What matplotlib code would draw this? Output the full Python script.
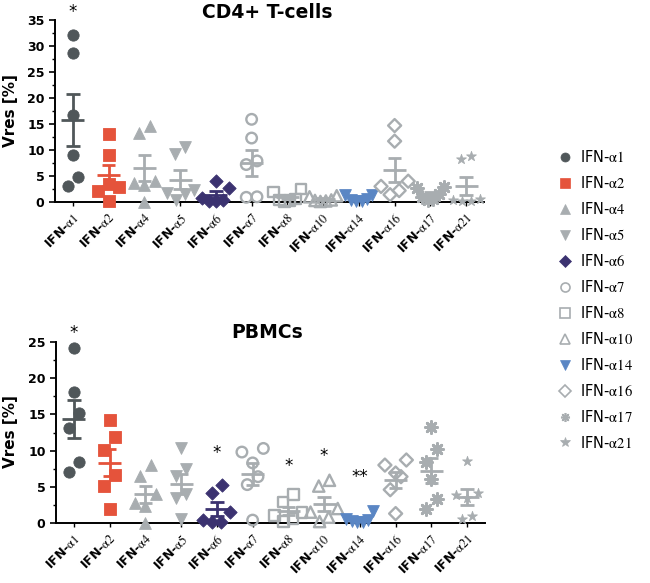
import numpy as np
import matplotlib
matplotlib.use('Agg')
import matplotlib.pyplot as plt
from matplotlib.lines import Line2D
from matplotlib.ticker import MultipleLocator

plt.rcParams['mathtext.fontset'] = 'stix'

subtypes = ['1', '2', '4', '5', '6', '7', '8', '10', '14', '16', '17', '21']
labels = [r'IFN-$\mathrm{\alpha%s}$' % s for s in subtypes]

# CD4+ T-cells, Vres [%] per donor
cd4_a1 = [32.2, 28.6, 16.7, 9.1, 4.8, 3.0]
cd4_a2 = [13.0, 9.1, 3.5, 2.9, 2.2, 0.1]
cd4_a4 = [14.7, 13.3, 4.0, 3.7, 3.3, 0.0]
cd4_a5 = [10.5, 9.2, 2.3, 1.8, 1.5, 0.3]
cd4_a6 = [4.1, 2.6, 0.8, 0.4, 0.2, 0.1]
cd4_a7 = [15.9, 12.3, 7.9, 7.2, 1.0, 0.9]
cd4_a8 = [2.5, 1.9, 0.6, 0.4, 0.3, 0.1]
cd4_a10 = [1.2, 1.0, 0.4, 0.3, 0.2, 0.1]
cd4_a14 = [1.4, 1.3, 0.6, 0.3, 0.2, 0.1]
cd4_a16 = [14.7, 11.7, 4.0, 3.0, 2.2, 1.4]
cd4_a17 = [2.9, 2.6, 1.6, 1.0, 0.6, 0.3]
cd4_a21 = [8.9, 8.3, 0.6, 0.4, 0.2, 0.1]

# PBMCs
pbmc_a1 = [24.2, 18.1, 15.2, 13.1, 8.4, 7.0]
pbmc_a2 = [14.2, 11.9, 10.1, 6.6, 5.1, 1.9]
pbmc_a4 = [8.0, 6.5, 4.0, 2.8, 2.4, 0.0]
pbmc_a5 = [10.3, 7.5, 6.5, 4.0, 3.5, 0.5]
pbmc_a6 = [5.2, 4.2, 1.5, 0.4, 0.2, 0.1]
pbmc_a7 = [10.3, 9.8, 8.3, 6.4, 5.3, 0.4]
pbmc_a8 = [3.9, 2.9, 1.5, 1.0, 0.6, 0.2]
pbmc_a10 = [5.9, 5.1, 2.0, 1.5, 0.8, 0.2]
pbmc_a14 = [1.6, 0.6, 0.4, 0.3, 0.2, 0.1]
pbmc_a16 = [8.7, 8.0, 6.9, 6.4, 4.6, 1.3]
pbmc_a17 = [13.3, 10.2, 8.4, 6.1, 3.3, 2.0]
pbmc_a21 = [8.5, 4.2, 3.8, 3.4, 1.0, 0.6]

cd4 = [cd4_a1, cd4_a2, cd4_a4, cd4_a5, cd4_a6, cd4_a7, cd4_a8, cd4_a10,
       cd4_a14, cd4_a16, cd4_a17, cd4_a21]
pbmc = [pbmc_a1, pbmc_a2, pbmc_a4, pbmc_a5, pbmc_a6, pbmc_a7, pbmc_a8, pbmc_a10,
        pbmc_a14, pbmc_a16, pbmc_a17, pbmc_a21]

# significance marks: group index, text, height
cd4_sig_idx = [0]
cd4_sig_txt = ['*']
cd4_sig_y = [36.6]
pbmc_sig_idx = [0, 4, 6, 7, 8]
pbmc_sig_txt = ['*', '*', '*', '*', '**']
pbmc_sig_y = [26.3, 9.6, 7.9, 9.2, 6.3]

dark = '#50575a'
red = '#e5533b'
gray = '#a8adb0'
purple = '#3b3270'
blue = '#5a86c4'
# marker, face, edge, size, line colour
styles = [
    ('o', dark, dark, 66, dark),
    ('s', red, red, 66, red),
    ('^', gray, gray, 72, gray),
    ('v', gray, gray, 72, gray),
    ('D', purple, purple, 46, purple),
    ('o', 'none', gray, 58, gray),
    ('s', 'none', gray, 60, gray),
    ('^', 'none', gray, 66, gray),
    ('v', blue, blue, 72, blue),
    ('D', 'none', gray, 44, gray),
    ((8, 2, 0), gray, gray, 75, gray),
    ('*', gray, gray, 55, gray),
]


def swarm(vals, ppu, d=0.3, thresh=15.5, maxw=0.38):
    # points closer than thresh pixels share a row and are spread sideways,
    # the highest ones going to the outside of the row
    vals = np.asarray(vals, float)
    order = np.argsort(vals)
    offs = np.zeros(len(vals))
    rows = []
    for i in order:
        if rows and (vals[i] - vals[rows[-1][0]]) * ppu < thresh:
            rows[-1].append(i)
        else:
            rows.append([i])
    for row in rows:
        n = len(row)
        w = min((n - 1) / 2 * d, maxw)
        pos = list(np.linspace(-w, w, n)) if n > 1 else [0.0]
        fill = []
        while pos:
            fill.append(pos.pop())
            if pos:
                fill.append(pos.pop(0))
        for i, x in zip(row[::-1], fill):
            offs[i] = x
    return offs


def panel(ax, data, ymax, step, sig_idx, sig_txt, sig_y):
    ax.set_xlim(-0.5, 11.5)
    ax.set_ylim(0, ymax)
    ppu = ax.get_window_extent().height / ymax
    for i, v in enumerate(data):
        m, fc, ec, s, lc = styles[i]
        xs = i + swarm(v, ppu)
        lw = 1.7 if fc == 'none' else 0.6
        if m == (8, 2, 0):
            lw = 2.0
        ax.scatter(xs, v, marker=m, s=s, facecolors=fc, edgecolors=ec,
                   linewidths=lw, clip_on=False, zorder=3)
        mean = np.mean(v)
        sem = np.std(v, ddof=1) / np.sqrt(len(v))
        ax.hlines(mean, i - 0.32, i + 0.32, color=lc, lw=2, zorder=4, clip_on=False)
        ax.hlines([mean - sem, mean + sem], i - 0.19, i + 0.19, color=lc, lw=2,
                  zorder=4, clip_on=False)
        ax.vlines(i, mean - sem, mean + sem, color=lc, lw=2, zorder=4, clip_on=False)
    for gi, t, y in zip(sig_idx, sig_txt, sig_y):
        ax.text(gi, y, t, ha='center', va='center', fontsize=12, clip_on=False)
    for side in ['top', 'right']:
        ax.spines[side].set_visible(False)
    ax.spines['left'].set_linewidth(1.4)
    ax.spines['bottom'].set_linewidth(1.4)
    ax.yaxis.set_major_locator(MultipleLocator(step))
    ax.yaxis.set_minor_locator(MultipleLocator(step / 2))
    ax.tick_params(axis='y', which='major', length=4, width=1.2, labelsize=9)
    ax.tick_params(axis='y', which='minor', length=2, width=1)
    ax.tick_params(axis='x', length=3, width=1)
    for t in ax.get_yticklabels():
        t.set_fontweight('bold')
    ax.set_xticks(range(len(labels)))
    ax.set_xticklabels(labels, rotation=45, ha='right', rotation_mode='anchor',
                       fontsize=9, fontweight='bold')


fig = plt.figure(figsize=(6.5, 5.83), dpi=100)
ax1 = fig.add_axes([55 / 650, 1 - 202 / 583, 429 / 650, 182 / 583])
ax2 = fig.add_axes([56 / 650, 1 - 523 / 583, 429 / 650, 181 / 583])
panel(ax1, cd4, 35, 5, cd4_sig_idx, cd4_sig_txt, cd4_sig_y)
panel(ax2, pbmc, 25, 5, pbmc_sig_idx, pbmc_sig_txt, pbmc_sig_y)

fig.text(267 / 650, 1 - 13 / 583, 'CD4+ T-cells', ha='center', va='center',
         fontsize=13.5, fontweight='bold')
fig.text(267 / 650, 1 - 333 / 583, 'PBMCs', ha='center', va='center',
         fontsize=13.5, fontweight='bold')
fig.text(11 / 650, 1 - 111 / 583, 'Vres [%]', rotation=90, ha='center', va='center',
         fontsize=11, fontweight='bold')
fig.text(11 / 650, 1 - 432 / 583, 'Vres [%]', rotation=90, ha='center', va='center',
         fontsize=11, fontweight='bold')

handles = []
for (m, fc, ec, s, lc), lab in zip(styles, labels):
    lw = 1.2 if fc == 'none' else 0.5
    if m == (8, 2, 0):
        lw = 1.2
    handles.append(Line2D([0], [0], ls='', marker=m, markersize=6.5 if m != '*' else 7,
                          markerfacecolor=fc, markeredgecolor=ec, markeredgewidth=lw,
                          label=lab))
fig.legend(handles=handles, loc='center left', bbox_to_anchor=(552 / 650, 1 - 300 / 583),
           frameon=False, fontsize=10.5, labelspacing=0.68, handletextpad=0.5,
           handlelength=1.0, borderaxespad=0)

fig.savefig('out.png', dpi=100)
